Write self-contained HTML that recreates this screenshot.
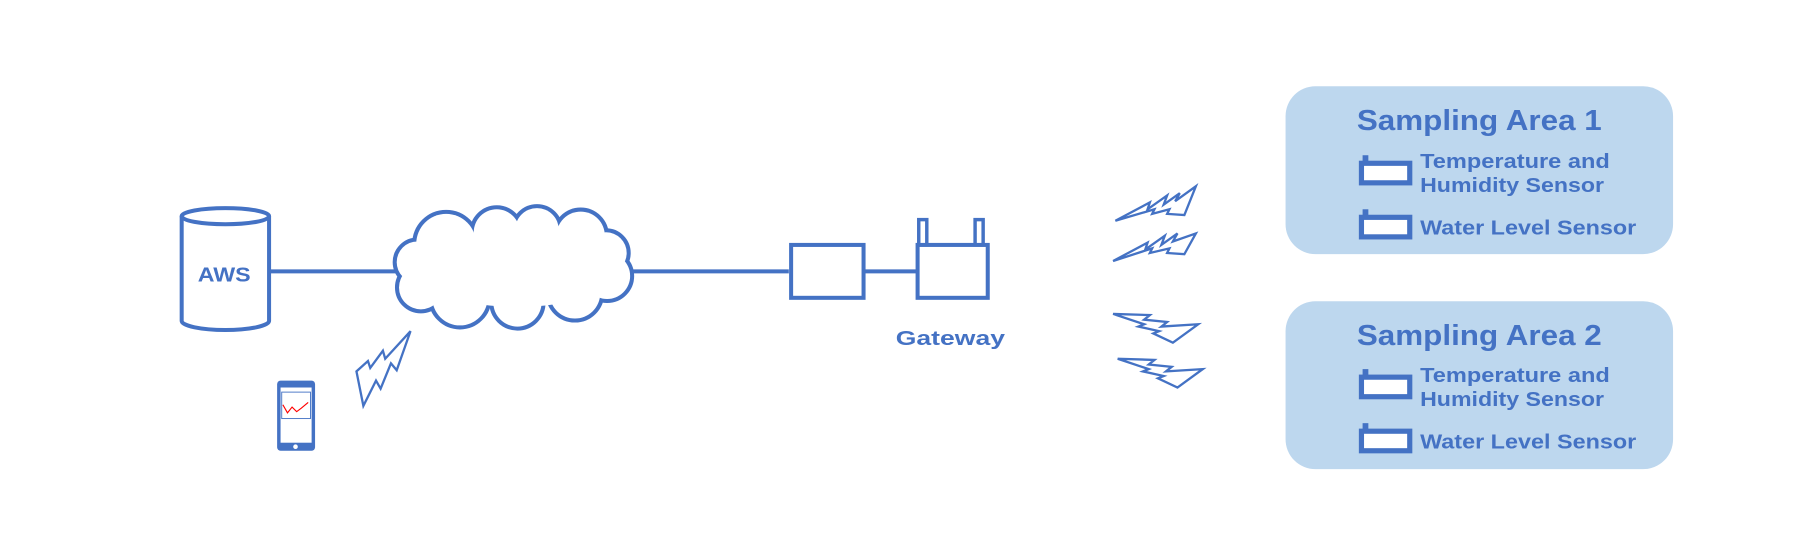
<!DOCTYPE html>
<html><head><meta charset="utf-8"><style>
html,body{margin:0;padding:0;background:#fff;}
svg{display:block}
text{font-family:"Liberation Sans",sans-serif;font-weight:bold;fill:#4472C4}
</style></head><body>
<svg width="1803" height="547" viewBox="0 0 1568 475.7" preserveAspectRatio="none" xmlns="http://www.w3.org/2000/svg">
<g stroke="#4472C4" fill="none" stroke-width="3.5">
<line x1="234" y1="236" x2="350" y2="236"/>
<line x1="545" y1="236" x2="686" y2="236"/>
<line x1="752" y1="236" x2="797" y2="236"/>
<path d="M158,188 L158,279 A38,8 0 0 0 234,279 L234,188"/>
<ellipse cx="196" cy="188" rx="38" ry="7"/>
<rect x="688" y="213" width="63" height="46"/>
<rect x="798" y="213" width="61" height="46"/>
<rect x="799" y="191" width="7" height="22" stroke-width="3"/>
<rect x="848" y="191" width="7" height="22" stroke-width="3"/>
</g>
<g stroke="#4472C4" stroke-width="7" fill="#fff">
<circle cx="388" cy="212" r="26"/><circle cx="432" cy="202" r="20"/><circle cx="467" cy="200" r="19"/>
<circle cx="505" cy="205" r="21"/><circle cx="527" cy="220" r="18"/><circle cx="528" cy="240" r="20"/>
<circle cx="500" cy="255" r="22"/><circle cx="450" cy="263" r="21"/><circle cx="400" cy="259" r="24"/>
<circle cx="366" cy="250" r="19"/><circle cx="363" cy="228" r="18"/>
</g>
<g fill="#fff">
<circle cx="388" cy="212" r="26"/><circle cx="432" cy="202" r="20"/><circle cx="467" cy="200" r="19"/>
<circle cx="505" cy="205" r="21"/><circle cx="527" cy="220" r="18"/><circle cx="528" cy="240" r="20"/>
<circle cx="500" cy="255" r="22"/><circle cx="450" cy="263" r="21"/><circle cx="400" cy="259" r="24"/>
<circle cx="366" cy="250" r="19"/><circle cx="363" cy="228" r="18"/>
<ellipse cx="450" cy="235" rx="85" ry="32"/>
</g>
<text x="172" y="245" font-size="18" textLength="46" lengthAdjust="spacingAndGlyphs">AWS</text>
<text x="779" y="300" font-size="18" textLength="95" lengthAdjust="spacingAndGlyphs">Gateway</text>
<rect x="241" y="331" width="33" height="61" rx="3" fill="#4472C4"/>
<rect x="244" y="337" width="27" height="48" fill="#fff"/>
<rect x="245" y="341" width="25" height="23" fill="none" stroke="#4472C4" stroke-width="0.8"/>
<polyline points="246,352 250,359 254,354 258,358 262,355 268,350" fill="none" stroke="red" stroke-width="1"/>
<circle cx="257" cy="388.5" r="2" fill="#fff"/>
<g fill="none" stroke="#4472C4" stroke-width="2">
<polygon points="310,323 320,314 322,320 333,305 335,312 357,288 345,322 340,316 331,338 327,331 316,353"/>
<polygon points="970,192 1000,176 998,182 1015,170 1012,178 1026,168 1022,175 1040,162 1030,187 1015,186 1017,182 1002,186 1004,182"/>
<polygon points="968,227 998,211 996,217 1013,205 1010,213 1024,203 1020,210 1040,203 1030,221 1015,220 1017,216 1000,220 1002,216"/>
<polygon points="968,273 1000,274 995,278 1015,280 1010,284 1042,282 1020,298 1003,290 1008,288 990,284 995,282"/>
<polygon points="972,312 1004,313 999,317 1019,319 1014,323 1046,321 1024,337 1007,329 1012,327 994,323 999,321"/>
</g>
<rect x="1118" y="75" width="337" height="146" rx="26" fill="#BDD7EE"/>
<rect x="1118" y="262" width="337" height="146" rx="26" fill="#BDD7EE"/>
<text x="1180" y="113" font-size="25" textLength="213" lengthAdjust="spacingAndGlyphs">Sampling Area 1</text>
<text x="1235" y="146" font-size="18" textLength="165" lengthAdjust="spacingAndGlyphs">Temperature and</text>
<text x="1235" y="167" font-size="18" textLength="160" lengthAdjust="spacingAndGlyphs">Humidity Sensor</text>
<text x="1235" y="204" font-size="18" textLength="188" lengthAdjust="spacingAndGlyphs">Water Level Sensor</text>
<rect x="1184" y="142" width="42" height="17" fill="#fff" stroke="#4472C4" stroke-width="4.5"/>
<rect x="1185" y="135" width="5" height="6" fill="#4472C4"/>
<rect x="1184" y="189" width="42" height="17" fill="#fff" stroke="#4472C4" stroke-width="4.5"/>
<rect x="1185" y="182" width="5" height="6" fill="#4472C4"/>
<text x="1180" y="300" font-size="25" textLength="213" lengthAdjust="spacingAndGlyphs">Sampling Area 2</text>
<text x="1235" y="332" font-size="18" textLength="165" lengthAdjust="spacingAndGlyphs">Temperature and</text>
<text x="1235" y="353" font-size="18" textLength="160" lengthAdjust="spacingAndGlyphs">Humidity Sensor</text>
<text x="1235" y="390" font-size="18" textLength="188" lengthAdjust="spacingAndGlyphs">Water Level Sensor</text>
<rect x="1184" y="328" width="42" height="17" fill="#fff" stroke="#4472C4" stroke-width="4.5"/>
<rect x="1185" y="321" width="5" height="6" fill="#4472C4"/>
<rect x="1184" y="375" width="42" height="17" fill="#fff" stroke="#4472C4" stroke-width="4.5"/>
<rect x="1185" y="368" width="5" height="6" fill="#4472C4"/>
</svg>
</body></html>
